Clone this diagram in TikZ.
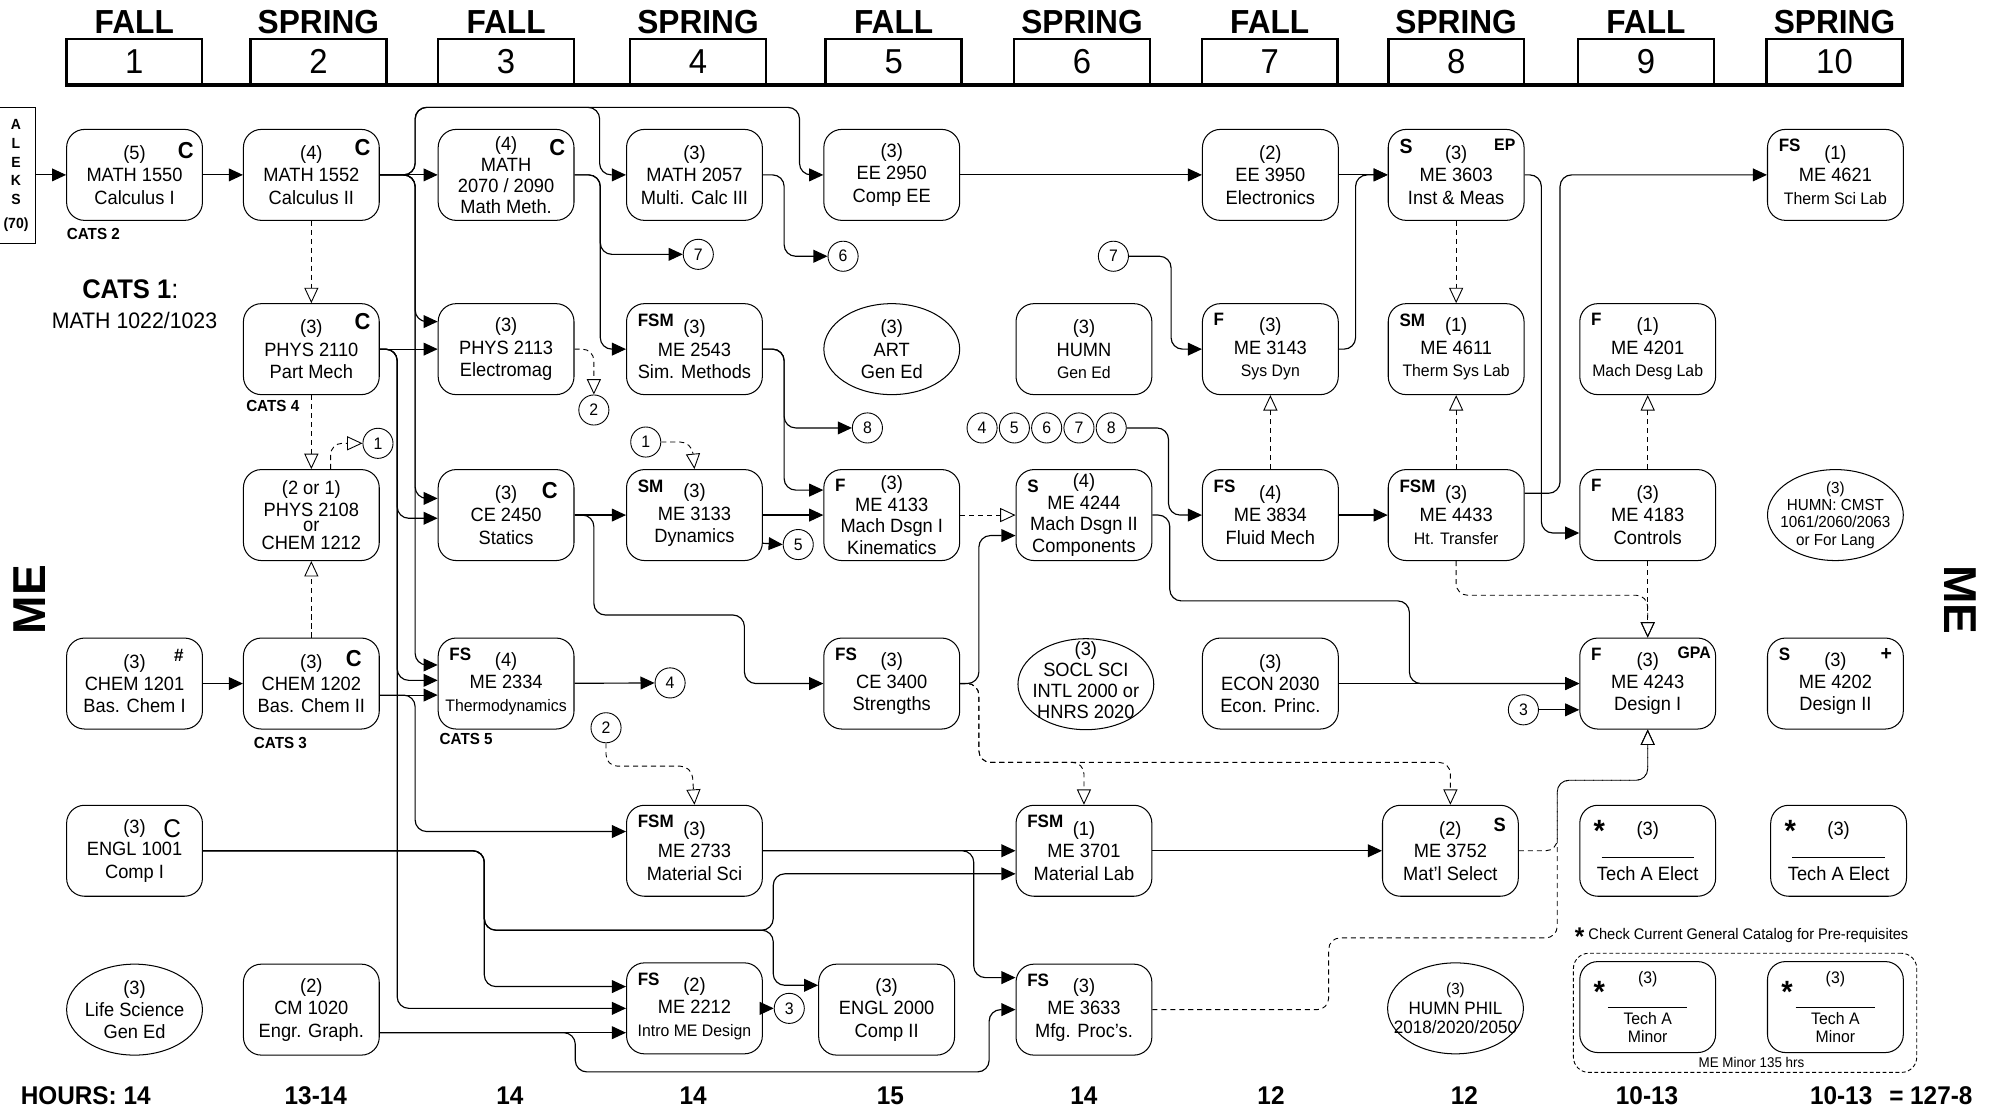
\documentclass[tikz,border=0pt]{standalone}
\usepackage{fontspec}
\setmainfont{Liberation Sans}[FakeStretch=0.95]
\newfontfamily\wideF{Liberation Sans}
\usetikzlibrary{arrows.meta,shapes.geometric}
\newcommand\fsz[2]{\fontsize{#1}{#2}\selectfont}
\newcommand\smt[1]{{\fsz{13}{15}#1}}
\def\colA{105}\def\colB{243}\def\colC{395}\def\colD{542}\def\colE{696}
\def\colF{846}\def\colG{991.5}\def\colH{1136.5}\def\colI{1286}\def\colJ{1432.5}
\def\rowA{136.5}\def\rowB{272.5}\def\rowC{402}\def\rowD{533.5}\def\rowE{664}\def\rowF{788}
\newcommand\FlagL[3][]{\node[lflag,#1] (#2-l) at ([shift={(9pt,-8pt)}]#2.north west) {#3};}
\newcommand\FlagR[3][]{\node[rflag,#1] (#2-r) at ([shift={(-7pt,-8pt)}]#2.north east) {#3};}
\begin{document}
\begin{tikzpicture}[x=1pt,y=-1pt,
  course/.style={draw,line width=0.8pt,rounded corners=14pt,minimum width=106pt,minimum height=71pt,align=center,inner sep=0pt,font=\fsz{15}{17.5}},
  oval/.style={draw,line width=0.8pt,ellipse,minimum width=106pt,minimum height=71pt,inner sep=0pt},
  ovtext/.style={align=center,inner sep=0pt,font=\fsz{15}{17.5}},
  lflag/.style={font=\bfseries\fsz{14}{14},anchor=north west,inner sep=0pt},
  rflag/.style={font=\bfseries\fsz{18}{18},anchor=north east,inner sep=0pt},
  num/.style={draw,circle,line width=0.7pt,minimum size=23.5pt,inner sep=0pt,font=\fsz{13}{13}},
  arr/.style={line width=0.9pt,rounded corners=9pt,-{Triangle[length=11pt,width=10pt]}},
  dep/.style={line width=0.7pt,dash pattern=on 4pt off 3pt,rounded corners=9pt,-{Triangle[open,length=12pt,width=11pt,line width=0.7pt]}},
  sem/.style={font=\bfseries\fsz{26}{26},anchor=base,inner sep=0pt},
  semnum/.style={draw,line width=2pt,minimum width=106pt,minimum height=35pt,inner sep=0pt,font=\fsz{27}{27}},
  hrs/.style={font=\bfseries\fsz{20}{20},inner sep=0pt},
  cats/.style={font=\bfseries\fsz{12.5}{12.5},anchor=west,inner sep=0pt},
]
\useasboundingbox (0,0) rectangle (1568,867);

% ---------- semester header ----------
\foreach \i/\x/\s in {1/104.8/FALL,2/248.5/SPRING,3/395/FALL,4/544.8/SPRING,5/697.5/FALL,6/844.5/SPRING,7/991/FALL,8/1136.5/SPRING,9/1284.6/FALL,10/1431.8/SPRING}{
  \node[semnum] (s\i) at (\x,48) {\i};
  \node[sem] (t\i) at (\x,26) {\s};
}
\draw[line width=3pt] (s1.south west) -- (s10.south east);

% ---------- side labels ----------
\node[draw,line width=0.8pt,minimum width=31pt,minimum height=106pt,inner sep=0pt,align=center,font=\bfseries\fsz{11.5}{14.7}] (aleks) at (12.5,137) {A\\L\\E\\K\\S\\[4pt](70)};
\node[rotate=90,font=\wideF\bfseries\fsz{36}{36},inner sep=0pt] (meL) at (23,468) {ME};
\node[rotate=-90,font=\wideF\bfseries\fsz{36}{36},inner sep=0pt] (meR) at (1530,468) {ME};
\node[cats] (cats2) at (52,183) {CATS 2};
\node[anchor=west,inner sep=0pt,font=\fsz{21}{21}] (cats1) at (64,226) {\textbf{CATS 1}:};
\node[inner sep=0pt,font=\fsz{17.5}{17.5}] (cats1b) at (105,250) {MATH 1022/1023};
\node[cats] (cats4) at (192,317) {CATS 4};
\node[cats] (cats3) at (198,580) {CATS 3};
\node[cats] (cats5) at (343,577) {CATS 5};

% ---------- row 1 ----------
\node[course] (m1550) at (\colA,\rowA) {(5)\\MATH 1550\\Calculus I};
\FlagR[yshift=-2pt]{m1550}{C}
\node[course] (m1552) at (\colB,\rowA) {(4)\\MATH 1552\\Calculus II};
\FlagR{m1552}{C}
\node[course,font=\fsz{15}{16.5}] (m2070) at (\colC,\rowA) {(4)\\MATH\\2070 / 2090\\Math Meth.};
\FlagR{m2070}{C}
\node[course] (m2057) at (\colD,\rowA) {(3)\\MATH 2057\\Multi. Calc III};
\node[course] (ee2950) at (\colE,\rowA) {(3)\\EE 2950\\Comp EE};
\node[course] (ee3950) at (\colG,\rowA) {(2)\\EE 3950\\Electronics};
\node[course] (me3603) at (\colH,\rowA) {(3)\\ME 3603\\Inst \& Meas};
\FlagL[font=\bfseries\fsz{16}{16}]{me3603}{S}
\FlagR[font=\bfseries\fsz{13}{13}]{me3603}{EP}
\node[course] (me4621) at (\colJ,\rowA) {(1)\\ME 4621\\\smt{Therm Sci Lab}};
\FlagL{me4621}{FS}

% ---------- row 2 ----------
\node[course] (p2110) at (\colB,\rowB) {(3)\\PHYS 2110\\Part Mech};
\FlagR{p2110}{C}
\node[course] (p2113) at (\colC,\rowB) {(3)\\PHYS 2113\\Electromag};
\node[course] (me2543) at (\colD,\rowB) {(3)\\ME 2543\\Sim. Methods};
\FlagL{me2543}{FSM}
\node[oval] (art) at (\colE,\rowB) {};
\node[ovtext] (art-t) at (art.center) {(3)\\ART\\Gen Ed};
\node[course] (humn) at (\colF,\rowB) {(3)\\HUMN\\\smt{Gen Ed}};
\node[course] (me3143) at (\colG,\rowB) {(3)\\ME 3143\\\smt{Sys Dyn}};
\FlagL{me3143}{F}
\node[course] (me4611) at (\colH,\rowB) {(1)\\ME 4611\\\smt{Therm Sys Lab}};
\FlagL{me4611}{SM}
\node[course] (me4201) at (\colI,\rowB) {(1)\\ME 4201\\\smt{Mach Desg Lab}};
\FlagL{me4201}{F}

% ---------- row 3 ----------
\node[course,font=\fsz{15}{17}] (p2108) at (\colB,\rowC) {(2 or 1)\\PHYS 2108\\[-5pt]or\\[-3pt]CHEM 1212};
\node[course] (ce2450) at (\colC,\rowC) {(3)\\CE 2450\\Statics};
\FlagR[xshift=-6pt,yshift=-2pt]{ce2450}{C}
\node[course] (me3133) at (\colD,\rowC) {(3)\\ME 3133\\Dynamics};
\FlagL{me3133}{SM}
\node[course,font=\fsz{15}{17}] (me4133) at (\colE,\rowC) {(3)\\ME 4133\\Mach Dsgn I\\Kinematics};
\FlagL{me4133}{F}
\node[course,font=\fsz{15}{17}] (me4244) at (\colF,\rowC) {(4)\\ME 4244\\Mach Dsgn II\\Components};
\FlagL{me4244}{S}
\node[course] (me3834) at (\colG,\rowC) {(4)\\ME 3834\\Fluid Mech};
\FlagL{me3834}{FS}
\node[course] (me4433) at (\colH,\rowC) {(3)\\ME 4433\\\smt{Ht. Transfer}};
\FlagL{me4433}{FSM}
\node[course] (me4183) at (\colI,\rowC) {(3)\\ME 4183\\Controls};
\FlagL{me4183}{F}
\node[oval] (cmst) at (\colJ,\rowC) {};
\node[ovtext,font=\fsz{12.5}{13.5}] (cmst-t) at (cmst.center) {(3)\\HUMN: CMST\\1061/2060/2063\\or For Lang};

% ---------- row 4 ----------
\node[course] (ch1201) at (\colA,\rowD) {(3)\\CHEM 1201\\Bas. Chem I};
\FlagR[xshift=-8pt,yshift=-1pt,font=\bfseries\fsz{14}{14}]{ch1201}{\#}
\node[course] (ch1202) at (\colB,\rowD) {(3)\\CHEM 1202\\Bas. Chem II};
\FlagR[xshift=-7pt,yshift=-2pt]{ch1202}{C}
\node[course] (me2334) at (\colC,\rowD) {(4)\\ME 2334\\\smt{Thermodynamics}};
\FlagL{me2334}{FS}
\node[course] (ce3400) at (\colE,\rowD) {(3)\\CE 3400\\Strengths};
\FlagL{ce3400}{FS}
\node[oval] (socl) at (847.5,534) {};
\node[ovtext,font=\fsz{15}{16.5}] (socl-t) at ([yshift=3pt]socl.center) {(3)\\SOCL SCI\\INTL 2000 or\\HNRS 2020};
\node[course] (econ) at (\colG,\rowD) {(3)\\ECON 2030\\Econ. Princ.};
\node[course] (me4243) at (\colI,\rowD) {(3)\\ME 4243\\Design I};
\FlagL{me4243}{F}
\FlagR[font=\bfseries\fsz{13}{13},xshift=3pt,yshift=1pt]{me4243}{GPA}
\node[course] (me4202) at (\colJ,\rowD) {(3)\\ME 4202\\Design II};
\FlagL{me4202}{S}
\FlagR[font=\bfseries\fsz{16}{16},xshift=-2pt]{me4202}{+}

% ---------- row 5 ----------
\node[course] (en1001) at (\colA,\rowE) {(3)\\ENGL 1001\\Comp I};
\FlagR[font=\fsz{20}{20},xshift=-10pt,yshift=-3pt]{en1001}{C}
\node[course] (me2733) at (\colD,\rowE) {(3)\\ME 2733\\Material Sci};
\FlagL{me2733}{FSM}
\node[course] (me3701) at (\colF,\rowE) {(1)\\ME 3701\\Material Lab};
\FlagL{me3701}{FSM}
\node[course] (me3752) at (1132,\rowE) {(2)\\ME 3752\\Mat'l Select};
\FlagR[font=\bfseries\fsz{15}{15},xshift=-3pt,yshift=-2pt]{me3752}{S}
\node[course] (tae1) at (\colI,\rowE) {(3)\\\rule{72pt}{0.7pt}\\Tech A Elect};
\FlagL[font=\bfseries\fsz{24}{24},xshift=2pt,yshift=-4pt]{tae1}{*}
\node[course] (tae2) at (1435,\rowE) {(3)\\\rule{72pt}{0.7pt}\\Tech A Elect};
\FlagL[font=\bfseries\fsz{24}{24},xshift=2pt,yshift=-4pt]{tae2}{*}

% ---------- row 6 ----------
\node[oval] (life) at (\colA,\rowF) {};
\node[ovtext] (life-t) at (life.center) {(3)\\Life Science\\Gen Ed};
\node[course] (cm1020) at (\colB,\rowF) {(2)\\CM 1020\\Engr. Graph.};
\node[course] (me2212) at (\colD,787) {(2)\\ME 2212\\\smt{Intro ME Design}};
\FlagL{me2212}{FS}
\node[course] (en2000) at (692,\rowF) {(3)\\ENGL 2000\\Comp II};
\node[course] (me3633) at (\colF,\rowF) {(3)\\ME 3633\\Mfg. Proc's.};
\FlagL{me3633}{FS}
\node[oval] (phil) at (1136,787) {};
\node[ovtext,font=\fsz{14}{15}] (phil-t) at (phil.center) {{\fsz{12.5}{15}(3)}\\HUMN PHIL\\2018/2020/2050};
\node[draw,line width=0.7pt,dash pattern=on 3pt off 2pt,rounded corners=12pt,minimum width=268pt,minimum height=93pt,inner sep=0pt] (minorgrp) at (1362,790.5) {};
\node[course,font=\fsz{13}{14.5}] (tam1) at (\colI,786) {(3)\\[5pt]\rule{62pt}{0.6pt}\\[-2pt]Tech A\\Minor};
\FlagL[font=\bfseries\fsz{24}{24},xshift=2pt,yshift=-8pt]{tam1}{*}
\node[course,font=\fsz{13}{14.5}] (tam2) at (\colJ,786) {(3)\\[5pt]\rule{62pt}{0.6pt}\\[-2pt]Tech A\\Minor};
\FlagL[font=\bfseries\fsz{24}{24},xshift=2pt,yshift=-8pt]{tam2}{*}
\node[inner sep=0pt,font=\fsz{11}{11}] (minorlbl) at (1367,829) {ME Minor 135 hrs};
\node[anchor=west,inner sep=0pt,font=\fsz{12}{12}] (note) at (1229,731) {{\bfseries\fsz{20}{12}\raisebox{-5pt}{*}}\ Check Current General Catalog for Pre-requisites};

% ---------- number circles ----------
\node[num] (n7a) at (545,198.5) {7};
\node[num] (n6) at (658,200) {6};
\node[num] (n7b) at (869,200) {7};
\node[num] (n2a) at (463.5,320) {2};
\node[num] (n1a) at (295,346) {1};
\node[num] (n1b) at (504,345) {1};
\node[num] (n8) at (677,334) {8};
\node[num] (q4) at (766.5,334) {4};
\node[num] (q5) at (791.7,334) {5};
\node[num] (q6) at (816.9,334) {6};
\node[num] (q7) at (842.1,334) {7};
\node[num] (q8) at (867.3,334) {8};
\node[num] (n5) at (623,425) {5};
\node[num] (n4) at (523,533) {4};
\node[num] (n2b) at (473,568) {2};
\node[num] (n3a) at (616,787) {3};
\node[num] (n3b) at (1189,554) {3};

% ---------- hours ----------
\node[hrs,anchor=west] (hA) at (16,855) {HOURS: 14};
\node[hrs] (hB) at (246.5,855) {13-14};
\node[hrs] (hC) at (398,855) {14};
\node[hrs] (hD) at (541,855) {14};
\node[hrs] (hE) at (695,855) {15};
\node[hrs] (hF) at (846,855) {14};
\node[hrs] (hG) at (992,855) {12};
\node[hrs] (hH) at (1143,855) {12};
\node[hrs] (hI) at (1285.5,855) {10-13};
\node[hrs] (hJ) at (1437,855) {10-13};
\node[hrs] (hK) at (1507,855) {= 127-8};

% ---------- solid prerequisites ----------
\draw[arr] (aleks.east |- m1550.west) -- (m1550.west);
\draw[arr] (m1550) -- (m1552);
\draw[arr] (m1552) -- (m2070);
\draw[arr] (m1552.east) -- (324,136.5) -- (324,83.8) -- (468,83.8) -- (468,136.5) -- (m2057.west);
\draw[arr] (m1552.east) -- (324,136.5) -- (324,83.8) -- (624,83.8) -- (624,136.5) -- (ee2950.west);
\draw[arr] (m1552.east) -- (324,136.5) -- (324,251) -- ([yshift=21.5pt]p2113.west);
\draw[arr] (m1552.east) -- (324,136.5) -- (324,389) -- ([yshift=13pt]ce2450.west);
\draw[arr] (m1552.east) -- (324,136.5) -- (324,519) -- ([yshift=14.5pt]me2334.west);
\draw[arr] (p2110) -- (p2113);
\draw[arr] (p2110.east) -- (310,272.5) -- (310,404.5) -- ([yshift=-2.5pt]ce2450.west);
\draw[arr] (p2110.east) -- (310,272.5) -- (310,531) -- ([yshift=2.5pt]me2334.west);
\draw[arr] (p2110.east) -- (310,272.5) -- (310,787) -- (me2212.west);
\draw[arr] (ch1201) -- (ch1202);
\draw[arr] ([yshift=-9pt]ch1202.east) -- ([yshift=-9pt]me2334.west);
\draw[arr] ([yshift=-9pt]ch1202.east) -- (324,542.5) -- (324,649) -- ([yshift=15pt]me2733.west);
\draw[arr] (en1001.east) -- (378,664) -- (378,770) -- ([yshift=17pt]me2212.west);
\draw[arr] (en1001.east) -- (378,664) -- (378,726) -- (603.5,726) -- (603.5,682) -- ([yshift=-18pt]me3701.west);
\draw[arr] (en1001.east) -- (378,664) -- (378,726) -- (603.5,726) -- (603.5,769) -- ([yshift=19pt]en2000.west);
\draw[arr] ([yshift=-18pt]cm1020.east) -- ([yshift=-19pt]me2212.west);
\draw[arr] ([yshift=-18pt]cm1020.east) -- (449,806) -- (449,836.6) -- (772,836.6) -- (772,788) -- (me3633.west);
\draw[arr] (me2733) -- (me3701);
\draw[arr] (me2733.east) -- (760,664) -- (760,763) -- ([yshift=25pt]me3633.west);
\draw[arr] (me2212) -- (n3a);
\draw[arr] (me2334) -- (n4);
\draw[arr] (ce2450) -- (me3133);
\draw[arr] (ce2450.east) -- (463.5,402) -- (463.5,480) -- (581,480) -- (581,533.5) -- (ce3400.west);
\draw[arr] (me3133) -- (me4133);
\draw[arr] ([yshift=-22pt]me3133.east) -- (n5.west);
\draw[arr] (me2543.east) -- (612,272.5) -- (612,334) -- (n8.west);
\draw[arr] (me2543.east) -- (612,272.5) -- (612,382.5) -- ([yshift=19.5pt]me4133.west);
\draw[arr] (m2070.east) -- (468.5,136.5) -- (468.5,198.5) -- (n7a.west);
\draw[arr] (m2070.east) -- (468.5,136.5) -- (468.5,272.5) -- (me2543.west);
\draw[arr] (m2057.east) -- (612,136.5) -- (612,200) -- (n6.west);
\draw[arr] (ee2950) -- (ee3950);
\draw[arr] (ee3950) -- (me3603);
\draw[arr] (n7b.east) -- (914,200) -- (914,272.5) -- (me3143.west);
\draw[arr] (q8.east) -- (912,334) -- (912,402) -- (me3834.west);
\draw[arr] (me4244.east) -- (913,402) -- (913,469) -- (1100,469) -- (1100,533.5) -- (me4243.west);
\draw[arr] (econ) -- (me4243);
\draw[arr] (n3b.east) -- ([yshift=-20.5pt]me4243.west);
\draw[arr] (ce3400.east) -- (764,533.5) -- (764,418) -- ([yshift=-16pt]me4244.west);
\draw[arr] (me3701) -- (me3752);
\draw[arr] (me3143.east) -- (1058,272.5) -- (1058,136.5) -- (me3603.west);
\draw[arr] ([yshift=17pt]me4433.east) -- (1217.6,385) -- (1217.6,136.5) -- (me4621.west);
\draw[arr] (me3603.east) -- (1203,136.5) -- (1203,416) -- ([yshift=-14pt]me4183.west);
\draw[arr] (me3834) -- (me4433);

% ---------- dashed co-requisites ----------
\draw[dep] (me4133) -- (me4244);
\draw[dep] (ce3400.east) -- (764,533.5) -- (764,595) -- (846,595) -- (me3701.north);
\draw[dep] (ce3400.east) -- (764,533.5) -- (764,595) -- (1132,595) -- (me3752.north);
\draw[dep] (me3752.east) -- (1215.4,664) -- (1215.4,609) -- (1286,609) -- (me4243.south);
\draw[dep] (me3633.east) -- (1037,788) -- (1037,732) -- (1215.4,732) -- (1215.4,609) -- (1286,609) -- (me4243.south);
\draw[dep] (me3603) -- (me4611);
\draw[dep] (me3834) -- (me3143);
\draw[dep] (me4433) -- (me4611);
\draw[dep] (me4433.south) -- (1136.5,464.6) -- (1286,464.6) -- (me4243.north);
\draw[dep] (me4183) -- (me4243);
\draw[dep] (me4183) -- (me4201);
\draw[dep] (m1552) -- (p2110);
\draw[dep] (p2110) -- (p2108);
\draw[dep] (ch1202) -- (p2108);
\draw[dep] ([xshift=15pt]p2108.north) -- (258,346) -- (n1a.west);
\draw[dep] (n1b.east) -- (540,345) -- (me3133.north);
\draw[dep] (p2113.east) -- (463.5,272.5) -- (n2a.north);
\draw[dep] (n2b.south) -- (473,598) -- (540,598) -- (me2733.north);
\end{tikzpicture}
\end{document}
